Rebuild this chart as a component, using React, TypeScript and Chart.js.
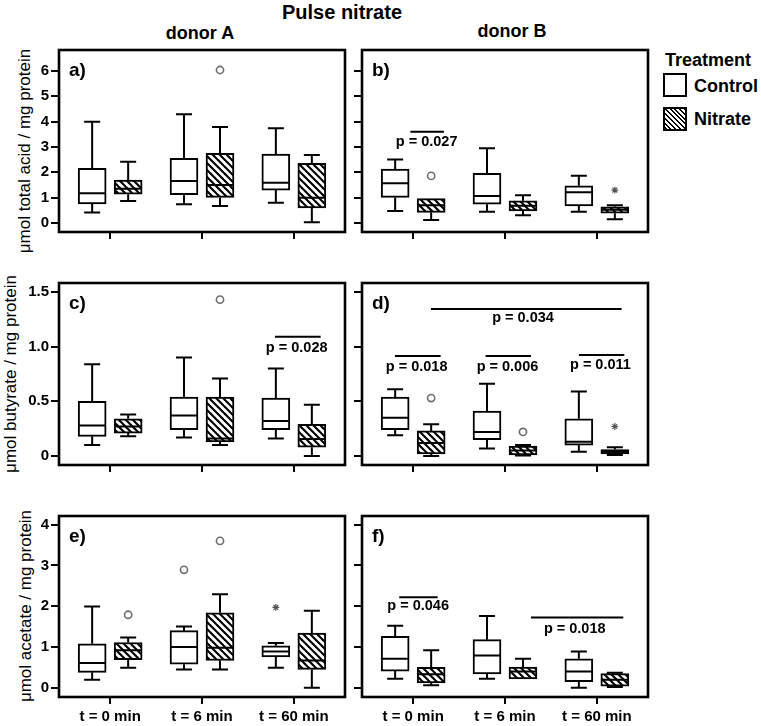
import React, { useEffect, useRef } from 'react';
import { Chart, registerables } from 'chart.js';

Chart.register(...registerables);

const FONT = "'Liberation Sans', Arial, Helvetica, sans-serif";
Chart.defaults.font.family = FONT;

// ---------- data ----------
const TIME_LABELS = ['t = 0 min', 't = 6 min', 't = 60 min'];
const TIME_INDEX = [0, 1, 2];

// five-number summaries per time point: [min, q1, median, q3, max]
const A_CONTROL = [[0.41, 0.75, 1.17, 2.16, 4.0], [0.74, 1.12, 1.66, 2.55, 4.29], [0.8, 1.3, 1.59, 2.72, 3.74]];
const A_NITRATE = [[0.87, 1.14, 1.35, 1.69, 2.42], [0.67, 1.01, 1.5, 2.75, 3.79], [0.03, 0.6, 1.0, 2.36, 2.68]];
const B_CONTROL = [[0.47, 1.01, 1.57, 2.13, 2.51], [0.44, 0.74, 1.07, 1.96, 2.95], [0.44, 0.67, 1.21, 1.47, 1.87]];
const B_NITRATE = [[0.12, 0.42, 0.7, 0.96, 0.96], [0.31, 0.48, 0.68, 0.88, 1.1], [0.15, 0.39, 0.52, 0.64, 0.7]];
const C_CONTROL = [[0.1, 0.18, 0.28, 0.5, 0.84], [0.17, 0.24, 0.37, 0.54, 0.9], [0.16, 0.24, 0.32, 0.53, 0.8]];
const C_NITRATE = [[0.18, 0.21, 0.27, 0.34, 0.38], [0.1, 0.13, 0.16, 0.54, 0.71], [0.0, 0.08, 0.155, 0.29, 0.47]];
const D_CONTROL = [[0.19, 0.24, 0.35, 0.54, 0.61], [0.07, 0.15, 0.22, 0.41, 0.66], [0.04, 0.1, 0.13, 0.34, 0.59]];
const D_NITRATE = [[0.0, 0.02, 0.12, 0.23, 0.29], [0.005, 0.01, 0.05, 0.09, 0.1], [0.01, 0.02, 0.04, 0.06, 0.08]];
const E_CONTROL = [[0.2, 0.38, 0.61, 1.08, 1.99], [0.45, 0.58, 1.0, 1.4, 1.5], [0.49, 0.76, 0.89, 1.03, 1.1]];
const E_NITRATE = [[0.49, 0.69, 0.92, 1.11, 1.23], [0.45, 0.67, 0.98, 1.84, 2.29], [0.0, 0.45, 0.67, 1.34, 1.89]];
const F_CONTROL = [[0.22, 0.41, 0.71, 1.26, 1.52], [0.22, 0.34, 0.79, 1.18, 1.76], [0.0, 0.15, 0.4, 0.71, 0.89]];
const F_NITRATE = [[0.06, 0.12, 0.33, 0.5, 0.92], [0.22, 0.22, 0.4, 0.51, 0.71], [0.02, 0.04, 0.2, 0.35, 0.37]];

// outliers: t = time index, g = 0 control / 1 nitrate, v = value, star = extreme
const A_OUTLIERS = [{ t: 1, g: 1, v: 6.04, star: false }];
const B_OUTLIERS = [{ t: 0, g: 1, v: 1.86, star: false }, { t: 2, g: 1, v: 1.3, star: true }];
const C_OUTLIERS = [{ t: 1, g: 1, v: 1.43, star: false }];
const D_OUTLIERS = [{ t: 0, g: 1, v: 0.53, star: false }, { t: 1, g: 1, v: 0.22, star: false }, { t: 2, g: 1, v: 0.27, star: true }];
const E_OUTLIERS = [{ t: 0, g: 1, v: 1.79, star: false }, { t: 1, g: 0, v: 2.89, star: false }, { t: 1, g: 1, v: 3.6, star: false }, { t: 2, g: 0, v: 1.97, star: true }];
const F_OUTLIERS: { t: number; g: number; v: number; star: boolean }[] = [];

// significance annotations (data units)
const A_PVALUES: PVal[] = [];
const B_PVALUES: PVal[] = [{ from: -0.03, to: 0.335, y: 3.6, text: 'p = 0.027', tx: 0.147, ty: 3.2 }];
const C_PVALUES: PVal[] = [{ from: 1.794, to: 2.292, y: 1.091, text: 'p = 0.028', tx: 2.031, ty: 0.988 }];
const D_PVALUES: PVal[] = [
  { from: 0.194, to: 2.27, y: 1.345, text: 'p = 0.034', tx: 1.196, ty: 1.259 },
  { from: -0.198, to: 0.299, y: 0.915, text: 'p = 0.018', tx: 0.038, ty: 0.817 },
  { from: 0.789, to: 1.283, y: 0.915, text: 'p = 0.006', tx: 1.027, ty: 0.817 },
  { from: 1.805, to: 2.299, y: 0.924, text: 'p = 0.011', tx: 2.039, ty: 0.833 },
];
const E_PVALUES: PVal[] = [];
const F_PVALUES: PVal[] = [
  { from: -0.151, to: 0.267, y: 2.222, text: 'p = 0.046', tx: 0.054, ty: 1.993 },
  { from: 1.283, to: 2.288, y: 1.724, text: 'p = 0.018', tx: 1.759, ty: 1.441 },
];

const TOTAL_TICKS = [0, 1, 2, 3, 4, 5, 6];
const BUTYRATE_TICKS = [0, 0.5, 1, 1.5];
const BUTYRATE_TICK_LABELS = ['0', '0.5', '1.0', '1.5'];
const ACETATE_TICKS = [0, 1, 2, 3, 4];

type PVal = { from: number; to: number; y: number; text: string; tx: number; ty: number };
type Outlier = { t: number; g: number; v: number; star: boolean };

// ---------- layout ----------
const X_MIN = -0.557;
const X_MAX = 2.557;
const GROUP_OFFSET = 0.196;
const BOX_W = 28;
const CAP_HALF = 8;

const COLS = [
  { cx: 0, cw: 352, axisW: 59, showY: true },
  { cx: 310, cw: 345, axisW: 52, showY: false },
];
const ROWS = [
  { cy: 40, ch: 200, axisH: 8, yMin: -0.355, yMax: 6.83, ticks: TOTAL_TICKS, labels: null as string[] | null, showX: false },
  { cy: 273, ch: 200, axisH: 8, yMin: -0.082, yMax: 1.582, ticks: BUTYRATE_TICKS, labels: BUTYRATE_TICK_LABELS, showX: false },
  { cy: 506, ch: 220, axisH: 29, yMin: -0.225, yMax: 4.21, ticks: ACETATE_TICKS, labels: null as string[] | null, showX: true },
];

type Panel = {
  letter: string;
  row: number;
  col: number;
  control: number[][];
  nitrate: number[][];
  outliers: Outlier[];
  pvals: PVal[];
};

const PANELS: Panel[] = [
  { letter: 'a)', row: 0, col: 0, control: A_CONTROL, nitrate: A_NITRATE, outliers: A_OUTLIERS, pvals: A_PVALUES },
  { letter: 'b)', row: 0, col: 1, control: B_CONTROL, nitrate: B_NITRATE, outliers: B_OUTLIERS, pvals: B_PVALUES },
  { letter: 'c)', row: 1, col: 0, control: C_CONTROL, nitrate: C_NITRATE, outliers: C_OUTLIERS, pvals: C_PVALUES },
  { letter: 'd)', row: 1, col: 1, control: D_CONTROL, nitrate: D_NITRATE, outliers: D_OUTLIERS, pvals: D_PVALUES },
  { letter: 'e)', row: 2, col: 0, control: E_CONTROL, nitrate: E_NITRATE, outliers: E_OUTLIERS, pvals: E_PVALUES },
  { letter: 'f)', row: 2, col: 1, control: F_CONTROL, nitrate: F_NITRATE, outliers: F_OUTLIERS, pvals: F_PVALUES },
];

function makeHatch(ctx: CanvasRenderingContext2D) {
  const s = 7;
  const c = document.createElement('canvas');
  c.width = s;
  c.height = s;
  const g = c.getContext('2d')!;
  g.fillStyle = '#fff';
  g.fillRect(0, 0, s, s);
  g.strokeStyle = '#000';
  g.lineWidth = 2.1;
  for (const k of [-s, 0, s]) {
    g.beginPath();
    g.moveTo(k - 1, -1);
    g.lineTo(k + s + 1, s + 1);
    g.stroke();
  }
  return ctx.createPattern(c, 'repeat')!;
}

function makePlugin(p: Panel) {
  return {
    id: 'boxExtras',
    afterDatasetsDraw(chart: any) {
      const { ctx, chartArea } = chart;
      const x = chart.scales.x;
      const y = chart.scales.y;
      ctx.save();
      ctx.strokeStyle = '#000';
      ctx.lineWidth = 2;
      ctx.lineCap = 'butt';
      const groups = [
        { stats: p.control, off: -GROUP_OFFSET },
        { stats: p.nitrate, off: GROUP_OFFSET },
      ];
      for (const grp of groups) {
        grp.stats.forEach((s, i) => {
          const [mn, q1, md, q3, mx] = s;
          const cx = x.getPixelForValue(TIME_INDEX[i] + grp.off);
          const half = BOX_W / 2 - 1;
          ctx.beginPath();
          ctx.moveTo(cx - half, y.getPixelForValue(md));
          ctx.lineTo(cx + half, y.getPixelForValue(md));
          if (mx > q3) {
            ctx.moveTo(cx, y.getPixelForValue(q3));
            ctx.lineTo(cx, y.getPixelForValue(mx));
            ctx.moveTo(cx - CAP_HALF, y.getPixelForValue(mx));
            ctx.lineTo(cx + CAP_HALF, y.getPixelForValue(mx));
          }
          if (mn < q1) {
            ctx.moveTo(cx, y.getPixelForValue(q1));
            ctx.lineTo(cx, y.getPixelForValue(mn));
            ctx.moveTo(cx - CAP_HALF, y.getPixelForValue(mn));
            ctx.lineTo(cx + CAP_HALF, y.getPixelForValue(mn));
          }
          ctx.stroke();
        });
      }
      // significance annotations
      ctx.lineWidth = 2;
      ctx.fillStyle = '#000';
      ctx.font = `bold 14.5px ${FONT}`;
      ctx.textAlign = 'center';
      ctx.textBaseline = 'middle';
      for (const a of p.pvals) {
        ctx.beginPath();
        ctx.moveTo(x.getPixelForValue(a.from), y.getPixelForValue(a.y));
        ctx.lineTo(x.getPixelForValue(a.to), y.getPixelForValue(a.y));
        ctx.stroke();
        ctx.fillText(a.text, x.getPixelForValue(a.tx), y.getPixelForValue(a.ty));
      }
      // frame
      ctx.lineWidth = 2.6;
      ctx.strokeRect(chartArea.left, chartArea.top, chartArea.right - chartArea.left, chartArea.bottom - chartArea.top);
      // panel letter
      ctx.font = `bold 19px ${FONT}`;
      ctx.textAlign = 'left';
      ctx.textBaseline = 'middle';
      ctx.fillText(p.letter, chartArea.left + 10, chartArea.top + 21);
      ctx.restore();
    },
  };
}

function PanelChart({ p }: { p: Panel }) {
  const ref = useRef<HTMLCanvasElement>(null);
  const col = COLS[p.col];
  const row = ROWS[p.row];
  useEffect(() => {
    const canvas = ref.current!;
    const hatch = makeHatch(canvas.getContext('2d')!);
    const circles = p.outliers.filter((o) => !o.star).map((o) => ({ x: o.t + (o.g ? GROUP_OFFSET : -GROUP_OFFSET), y: o.v }));
    const stars = p.outliers.filter((o) => o.star).map((o) => ({ x: o.t + (o.g ? GROUP_OFFSET : -GROUP_OFFSET), y: o.v }));
    const boxData = (stats: number[][], off: number) => stats.map((s, i) => ({ x: TIME_INDEX[i] + off, y: [s[1], s[3]] }));
    const chart = new Chart(canvas, {
      type: 'bar',
      data: {
        datasets: [
          {
            type: 'bar',
            label: 'Control',
            data: boxData(p.control, -GROUP_OFFSET) as any,
            backgroundColor: '#fff',
            borderColor: '#000',
            borderWidth: 2,
            borderSkipped: false,
            barThickness: BOX_W,
            grouped: false,
            order: 2,
          } as any,
          {
            type: 'bar',
            label: 'Nitrate',
            data: boxData(p.nitrate, GROUP_OFFSET) as any,
            backgroundColor: hatch,
            borderColor: '#000',
            borderWidth: 2,
            borderSkipped: false,
            barThickness: BOX_W,
            grouped: false,
            order: 2,
          } as any,
          {
            type: 'scatter',
            label: 'Outliers',
            data: circles,
            pointStyle: 'circle',
            pointRadius: 3.6,
            pointBorderColor: '#6e6e6e',
            pointBackgroundColor: '#fff',
            pointBorderWidth: 1.6,
            order: 0,
          } as any,
          {
            type: 'scatter',
            label: 'Extremes',
            data: stars,
            pointStyle: 'star',
            pointRadius: 3.4,
            pointBorderColor: '#555',
            pointBackgroundColor: '#555',
            pointBorderWidth: 1.2,
            order: 0,
          } as any,
        ],
      },
      options: {
        responsive: false,
        animation: false,
        devicePixelRatio: 1,
        events: [],
        layout: { padding: { top: 10, right: 7, left: 0, bottom: 0 } },
        plugins: { legend: { display: false }, tooltip: { enabled: false } },
        scales: {
          x: {
            type: 'linear',
            min: X_MIN,
            max: X_MAX,
            offset: false,
            border: { display: false },
            grid: { display: true, drawOnChartArea: false, drawTicks: true, tickLength: 7, color: '#000', lineWidth: 2, offset: false },
            ticks: {
              autoSkip: false,
              maxRotation: 0,
              padding: 4,
              color: '#000',
              font: { size: 15, weight: 'bold', family: FONT },
              callback: (v: any) => (row.showX ? TIME_LABELS[Math.round(Number(v))] : ''),
            },
            afterBuildTicks: (scale: any) => {
              scale.ticks = TIME_INDEX.map((v) => ({ value: v }));
            },
            afterFit: (scale: any) => {
              scale.height = row.axisH;
              scale.paddingLeft = 0;
              scale.paddingRight = 0;
              scale.paddingTop = 0;
              scale.paddingBottom = 0;
            },
          } as any,
          y: {
            type: 'linear',
            min: row.yMin,
            max: row.yMax,
            border: { display: false },
            grid: { display: true, drawOnChartArea: false, drawTicks: true, tickLength: 8, color: '#000', lineWidth: 2 },
            ticks: {
              padding: 2,
              color: '#000',
              font: { size: 15, weight: 'bold', family: FONT },
              callback: (v: any) => {
                if (!col.showY) return '';
                const idx = row.ticks.indexOf(Number(v));
                if (row.labels && idx >= 0) return row.labels[idx];
                return String(v);
              },
            },
            afterBuildTicks: (scale: any) => {
              scale.ticks = row.ticks.map((v) => ({ value: v }));
            },
            afterFit: (scale: any) => {
              scale.width = col.axisW;
              scale.paddingLeft = 0;
              scale.paddingRight = 0;
              scale.paddingTop = 0;
              scale.paddingBottom = 0;
            },
          } as any,
        },
      },
      plugins: [makePlugin(p)],
    });
    return () => chart.destroy();
  }, []);
  return (
    <canvas
      ref={ref}
      width={col.cw}
      height={row.ch}
      style={{ position: 'absolute', left: col.cx, top: row.cy, width: col.cw, height: row.ch }}
    />
  );
}

function Text({ x, y, size, bold, children, rotate, align }: any) {
  const tx = align === 'left' ? '0' : '-50%';
  return (
    <div
      style={{
        position: 'absolute',
        left: x,
        top: y,
        transform: `translate(${tx}, -50%)${rotate ? ' rotate(-90deg)' : ''}`,
        whiteSpace: 'nowrap',
        fontFamily: FONT,
        fontSize: size,
        fontWeight: bold ? 'bold' : 'normal',
        lineHeight: 1,
        color: '#000',
      }}
    >
      {children}
    </div>
  );
}

const Y_TITLES = ['μmol total acid / mg protein', 'μmol butyrate / mg protein', 'μmol acetate / mg protein'];

export default function App() {
  return (
    <div style={{ position: 'absolute', left: 0, top: 0, width: 761, height: 726, background: '#fff', overflow: 'hidden' }}>
      <Text x={342} y={12} size={20} bold>Pulse nitrate</Text>
      <Text x={200} y={33} size={18} bold>donor A</Text>
      <Text x={512} y={31} size={18} bold>donor B</Text>
      <Text x={24} y={151} size={17} rotate>{Y_TITLES[0]}</Text>
      <Text x={10} y={374} size={17} rotate>{Y_TITLES[1]}</Text>
      <Text x={25} y={606} size={17} rotate>{Y_TITLES[2]}</Text>
      {PANELS.map((p) => (
        <PanelChart key={p.letter} p={p} />
      ))}
      {/* legend */}
      <Text x={665} y={60} size={18} bold align="left">Treatment</Text>
      <div style={{ position: 'absolute', left: 663, top: 73, width: 24, height: 24, boxSizing: 'border-box', border: '2.5px solid #000', background: '#fff' }} />
      <Text x={694} y={86} size={18} bold align="left">Control</Text>
      <div
        style={{
          position: 'absolute',
          left: 663,
          top: 107,
          width: 24,
          height: 24,
          boxSizing: 'border-box',
          border: '2.5px solid #000',
          background: 'repeating-linear-gradient(45deg, #000 0px, #000 1.5px, #fff 1.5px, #fff 3.4px)',
        }}
      />
      <Text x={694} y={119} size={18} bold align="left">Nitrate</Text>
    </div>
  );
}
